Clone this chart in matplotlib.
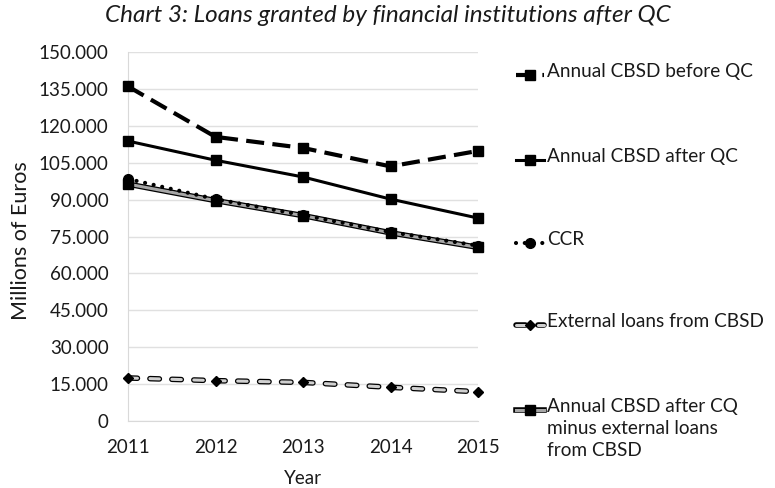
import matplotlib.pyplot as plt
from matplotlib.lines import Line2D
from matplotlib.ticker import FuncFormatter

plt.rcParams['font.family'] = ['Lato', 'DejaVu Sans']
plt.rcParams['lines.scale_dashes'] = False

years = [2011, 2012, 2013, 2014, 2015]
cbsd_before_qc = [136000, 115500, 111000, 103500, 109800]
cbsd_after_qc = [113800, 106000, 99200, 90200, 82500]
ccr = [98400, 90200, 83700, 76800, 71300]
external_loans = [17500, 16400, 15700, 13700, 11900]
after_minus_external = [96300, 89600, 83500, 76500, 70600]

labels = ['Annual CBSD before QC', 'Annual CBSD after QC', 'CCR',
          'External loans from CBSD',
          'Annual CBSD after CQ\nminus external loans\nfrom CBSD']

# each series: stacked line layers + marker
pill = dict(dashes=(6.8, 9), dash_capstyle='round')
series_styles = [
    ([dict(color='black', lw=3, dashes=(13, 6))], dict(marker='s', ms=6.5)),
    ([dict(color='black', lw=2.2)], dict(marker='s', ms=6.5)),
    ([dict(color='black', lw=3, dashes=(0.01, 6.3), dash_capstyle='round')], dict(marker='o', ms=7)),
    ([dict(color='black', lw=4, **pill), dict(color='#d0d0d0', lw=2.2, **pill)], dict(marker='D', ms=5)),
    ([dict(color='black', lw=4), dict(color='#a6a6a6', lw=2.2)], dict(marker='s', ms=6.5)),
]
series = [cbsd_before_qc, cbsd_after_qc, ccr, external_loans, after_minus_external]
order = [4, 3, 2, 1, 0]  # bands first, dark lines on top

fig = plt.figure(figsize=(7.75, 4.88), dpi=100)
ax = fig.add_axes([128 / 775, 67 / 488, 350 / 775, 369 / 488])

for z, i in enumerate(order):
    layers, mk = series_styles[i]
    for st in layers:
        ax.plot(years, series[i], zorder=3 + z, clip_on=False, **st)
    ax.plot(years, series[i], ls='none', color='black', zorder=3 + z, clip_on=False, **mk)

ax.set_xlim(2011, 2015)
ax.set_ylim(0, 150000)
ax.set_xticks(years)
ax.set_yticks(range(0, 150001, 15000))
ax.yaxis.set_major_formatter(FuncFormatter(lambda v, p: f'{int(v):,}'.replace(',', '.')))
ax.tick_params(axis='y', length=0, labelsize=13.5, colors='#1a1a1a', pad=14)
ax.tick_params(axis='x', length=0, labelsize=13.5, colors='#1a1a1a', pad=13)
ax.grid(axis='y', color='#e0e0e0', lw=1)
ax.set_axisbelow(True)
for s in ['top', 'right']:
    ax.spines[s].set_visible(False)
for s in ['left', 'bottom']:
    ax.spines[s].set_color('#d9d9d9')

ax.set_xlabel('Year', fontsize=13.5, color='#1a1a1a')
ax.xaxis.set_label_coords(0.5, -57 / 369)
ax.xaxis.label.set_va('center')
ax.set_ylabel('Millions of Euros', fontsize=15.5, color='#1a1a1a')
ax.yaxis.set_label_coords(-107 / 350, 0.49)
ax.yaxis.label.set_va('center')
fig.text(0.5, 1 - 15 / 488, 'Chart 3: Loans granted by financial institutions after QC',
         ha='center', va='center', fontsize=17.5, style='italic', color='#1a1a1a')

# legend entries stacked down the right side
legend_y = [75, 160, 243, 325, 410]
for y, lab, (layers, mk) in zip(legend_y, labels, series_styles):
    yf = 1 - y / 488
    for st in layers:
        fig.add_artist(Line2D([516 / 775, 544 / 775], [yf, yf], transform=fig.transFigure, **st))
    fig.add_artist(Line2D([530 / 775], [yf], transform=fig.transFigure, ls='none',
                          color='black', **mk))
    fig.text(547 / 775, yf + 12 / 488, lab, ha='left', va='top', fontsize=13.7,
             color='#1a1a1a', linespacing=1.35)

fig.savefig('out.png', dpi=100)
